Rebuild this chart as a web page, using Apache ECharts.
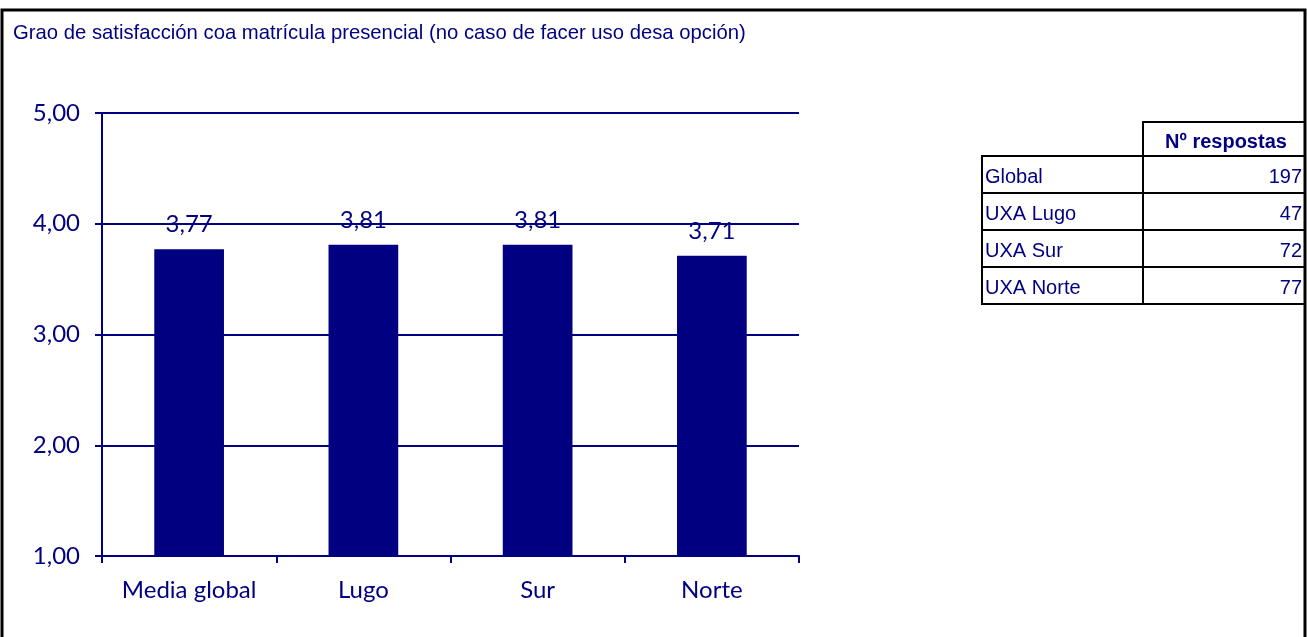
<!DOCTYPE html>
<html>
<head>
<meta charset="utf-8">
<script src="https://cdn.jsdelivr.net/npm/echarts@6/dist/echarts.min.js"></script>
<style>
  html, body { margin: 0; padding: 0; background: #fff; }
  #chart { width: 1307px; height: 637px; }
</style>
</head>
<body>
<div id="chart"></div>
<script>
// datos do gráfico
const categories = ['Media global', 'Lugo', 'Sur', 'Norte']
const values = [3.77, 3.81, 3.81, 3.71]
// táboa de respostas
const tableHeader = 'Nº respostas'
const tableRows = ['Global', 'UXA Lugo', 'UXA Sur', 'UXA Norte']
const tableCounts = [197, 47, 72, 77]

const navy = '#000080'
const font = 'Lato, "Noto Sans", sans-serif'
const fmt = v => v.toFixed(2).replace('.', ',')

const myChart = echarts.init(document.getElementById('chart'))

// táboa con elementos gráficos
const tX0 = 982, tX1 = 1143, tX2 = 1305
const tTop = 122, rowH = 37
const tableGraphics = []
tableGraphics.push({
  type: 'rect',
  shape: { x: tX1, y: tTop, width: tX2 - tX1, height: rowH * 0.92 },
  style: { fill: 'none', stroke: '#000', lineWidth: 2 }
})
tableGraphics.push({
  type: 'text',
  x: (tX1 + tX2) / 2 + 2, y: tTop + rowH * 0.46 + 3,
  style: { text: tableHeader, fill: navy, font: 'bold 20px Arial, "Liberation Sans"', align: 'center', verticalAlign: 'middle' }
})
const bodyTop = tTop + rowH * 0.92
tableRows.forEach((name, i) => {
  const y = bodyTop + i * rowH
  tableGraphics.push({
    type: 'rect',
    shape: { x: tX0, y: y, width: tX1 - tX0, height: rowH },
    style: { fill: 'none', stroke: '#000', lineWidth: 2 }
  })
  tableGraphics.push({
    type: 'rect',
    shape: { x: tX1, y: y, width: tX2 - tX1, height: rowH },
    style: { fill: 'none', stroke: '#000', lineWidth: 2 }
  })
  tableGraphics.push({
    type: 'text',
    x: tX0 + 3, y: y + rowH / 2 + 3,
    style: { text: name, fill: navy, font: '20px Arial, "Liberation Sans"', align: 'left', verticalAlign: 'middle' }
  })
  tableGraphics.push({
    type: 'text',
    x: tX2 - 3, y: y + rowH / 2 + 3,
    style: { text: String(tableCounts[i]), fill: navy, font: '20px Arial, "Liberation Sans"', align: 'right', verticalAlign: 'middle' }
  })
})

const option = {
  animation: false,
  backgroundColor: '#fff',
  title: {
    text: 'Grao de satisfacción coa matrícula presencial (no caso de facer uso desa opción)',
    left: 8,
    top: 18,
    textStyle: {
      color: navy,
      fontSize: 20.3,
      fontWeight: 'normal',
      fontFamily: 'Arial, "Liberation Sans"'
    }
  },
  grid: {
    left: 102,
    right: 508,
    top: 113,
    bottom: 81
  },
  xAxis: {
    type: 'category',
    data: categories,
    axisLine: { show: true, lineStyle: { color: navy, width: 2 } },
    axisTick: { show: true, interval: 0, length: 7, lineStyle: { color: navy, width: 2 } },
    axisLabel: { interval: 0, color: navy, fontSize: 24, fontFamily: font, margin: 22 }
  },
  yAxis: {
    type: 'value',
    min: 1,
    max: 5,
    interval: 1,
    axisLine: { show: true, lineStyle: { color: navy, width: 2 } },
    axisTick: { show: true, length: 7, lineStyle: { color: navy, width: 2 } },
    splitLine: { show: true, lineStyle: { color: navy, width: 2 } },
    axisLabel: { color: navy, fontSize: 24, fontFamily: font, margin: 22, formatter: fmt }
  },
  series: [
    {
      type: 'bar',
      data: values,
      barWidth: '40%',
      itemStyle: { color: navy },
      label: {
        show: true,
        position: 'top',
        distance: 13,
        color: navy,
        fontSize: 24,
        fontFamily: font,
        formatter: p => fmt(p.value)
      }
    }
  ],
  graphic: [
    {
      type: 'rect',
      shape: { x: 2, y: 10, width: 1303, height: 640 },
      style: { fill: 'none', stroke: '#000', lineWidth: 3 }
    }
  ].concat(tableGraphics)
}
myChart.setOption(option)
</script>
</body>
</html>
